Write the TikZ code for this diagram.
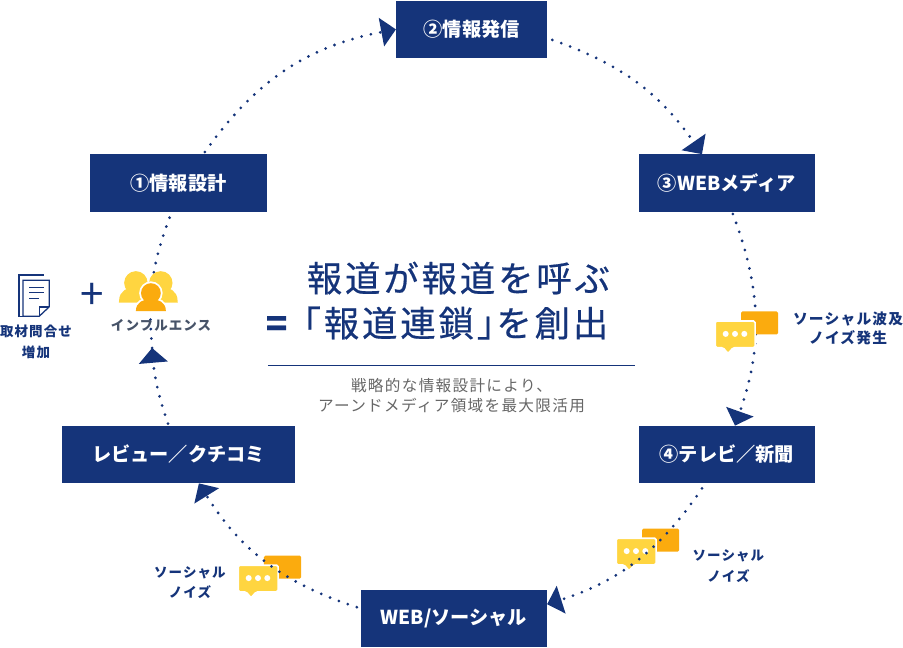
\documentclass[tikz,border=0pt]{standalone}
\usepackage{fontspec}
\setmainfont{Noto Sans CJK JP}
\newfontfamily\spacedfont[LetterSpace=8]{Noto Sans CJK JP}
\newfontfamily\subfont[LetterSpace=8.5]{Noto Sans CJK JP}
\newfontfamily\titlefont[LetterSpace=8,FakeBold=0.5]{Noto Sans CJK JP}
\usepackage{xcolor}
\usepackage{tikz}
\usetikzlibrary{arrows.meta,positioning}
\definecolor{navy}{HTML}{15347A}
\definecolor{chatyellow}{HTML}{FFD540}
\definecolor{chatorange}{HTML}{FBAB0E}
\definecolor{subgray}{HTML}{666666}
\definecolor{inflgray}{HTML}{475368}

\begin{document}
\begin{tikzpicture}[
        box/.style={rectangle, fill=navy, text=white, minimum height=1.91cm, inner sep=0pt, align=center, font=\fontsize{18.2}{20}\selectfont\bfseries},
        flow/.style={navy, line width=2.9pt, line cap=round, dash pattern=on 0pt off 9pt},
        tip/.style={-{Triangle[length=14pt,width=27pt]}},
        label/.style={text=navy, align=center, font=\fontsize{12.8}{19.8}\selectfont\spacedfont\bfseries},
        title/.style={text=navy, font=\fontsize{33.6}{36}\selectfont\titlefont},
        pics/chatpic/.style={code={
            \fill[chatorange, rounded corners=1.5pt] (0.83,0.35) rectangle (2.07,-0.42);
            \draw[white, line width=1.6pt, fill=chatyellow, rounded corners=1.5pt] (-0.03,0.03) -- (1.3,0.03) -- (1.3,-0.86) -- (0.57,-0.86) -- (0.4,-1.06) -- (0.23,-0.86) -- (-0.03,-0.86) -- cycle;
            \foreach \dotx in {0.32,0.63,0.94}
                \fill[white] (\dotx,-0.4) circle (0.1);
        }},
        pics/person/.style 2 args={code={
            \draw[#1, fill=#1, line width=3.4pt] (-0.5,-0.6) .. controls (-0.5,-0.3) and (-0.25,-0.2) .. (0,-0.2) .. controls (0.25,-0.2) and (0.5,-0.3) .. (0.5,-0.6) -- cycle;
            \draw[#1, fill=#1, line width=3.4pt] (0,0) circle (0.33);
            \fill[#2] (-0.5,-0.6) .. controls (-0.5,-0.3) and (-0.25,-0.2) .. (0,-0.2) .. controls (0.25,-0.2) and (0.5,-0.3) .. (0.5,-0.6) -- cycle;
            \fill[#2] (0,0) circle (0.33);
        }},
        pics/docicon/.style={code={
            \draw[navy, line width=1.2pt] (0.83,0) -- (0,0) -- (0,-1.37) -- (0.14,-1.37);
            \draw[navy, line width=1.2pt] (0.14,-0.17) -- (1.01,-0.17) -- (1.01,-1.06) -- (0.68,-1.37) -- (0.14,-1.37) -- cycle;
            \draw[navy, line width=1.2pt] (0.68,-1.37) -- (0.68,-1.06) -- (1.01,-1.06);
            \draw[navy, line width=1.2pt] (0.34,-0.41) -- (0.83,-0.41);
            \draw[navy, line width=1.2pt] (0.34,-0.59) -- (0.83,-0.59);
            \draw[navy, line width=1.2pt] (0.34,-0.78) -- (0.68,-0.78);
        }}
    ]
    \useasboundingbox (-15.05,-10.8) rectangle (15.05,10.8);

    % Chat icons lying under the dotted ring
    \pic at (5.52,-7.17) {chatpic};
    \pic at (-7.08,-8.07) {chatpic};

    % Steps around the ring
    \node[box, minimum width=5.03cm] (sending) at (0.67,9.82) {②情報発信};
    \node[box, minimum width=5.9cm] (design) at (-9.10,4.70) {①情報設計};
    \node[box, minimum width=5.87cm] (webmedia) at (9.18,4.70) {③WEBメディア};
    \node[box, minimum width=5.87cm] (tvpaper) at (9.18,-4.35) {④テレビ／新聞};
    \node[box, minimum width=7.77cm] (review) at (-9.10,-4.35) {レビュー／クチコミ};
    \node[box, minimum width=6.2cm] (social) at (0.08,-9.82) {WEB/ソーシャル};
    \coordinate (midtip) at (-9.98,-0.8);

    % Arrows
    \draw[flow, tip] ([xshift=0.88cm,yshift=0.07cm]design.north) to[bend left=22] (sending.west);
    \draw[flow, tip] ([xshift=0.17cm,yshift=-0.35cm]sending.east) to[bend left=18] ([xshift=-0.83cm]webmedia.north);
    \draw[flow, tip] ([xshift=0.2cm,yshift=-0.07cm]webmedia.south) to[bend left=20] ([xshift=0.27cm]tvpaper.north);
    \draw[flow, tip] ([xshift=-0.83cm,yshift=-0.17cm]tvpaper.south) to[bend left=19] ([yshift=0.48cm]social.east);
    \draw[flow, tip] ([xshift=-0.13cm,yshift=0.38cm]social.west) to[bend left=20] ([xshift=0.68cm]review.south);
    \draw[flow, tip] ([xshift=-0.35cm,yshift=0.07cm]review.north) to[bend left=7] (midtip);
    \draw[flow] (midtip) to[bend left=13] ([xshift=-0.25cm,yshift=-0.07cm]design.south);

    % Icons over the ring
    \pic at (8.82,0.07) {chatpic};
    \pic at (-14.42,1.63) {docicon};
    \pic at (-10.52,1.37) {person={chatyellow}{chatyellow}};
    \pic at (-9.69,1.37) {person={chatyellow}{chatyellow}};
    \pic at (-10.02,1.03) {person={white}{chatorange}};

    % Labels beside the ring
    \node[text=navy, inner sep=0pt, font=\fontsize{40}{40}\selectfont] (plus) at (-11.98,0.93) {+};
    \node[label, text=inflgray] (influencer) at (-9.68,-0.03) {インフルエンス};
    \node[label] (inquiry) at (-13.85,-0.6) {取材問合せ\\増加};
    \node[label, font=\fontsize{14}{18.5}\selectfont\spacedfont\bfseries] (spread) at (13.22,-0.15) {ソーシャル波及\\ノイズ発生};
    \node[label] (noiseright) at (9.23,-8.08) {ソーシャル\\ノイズ};
    \node[label] (noiseleft) at (-8.72,-8.62) {ソーシャル\\ノイズ};

    % Message in the middle
    \node[title] (headline) at (0.23,1.53) {報道が報道を呼ぶ};
    \node[title, anchor=east] (chain) at (5.35,0.03) {\textbf{=}\hspace{-0.13em}「報道連鎖」\hspace{-0.45em}を創出};
    \draw[navy, line width=1pt] (-6.12,-1.37) -- (6.12,-1.37);
    \node[text=subgray, align=center, font=\fontsize{14.8}{18.9}\selectfont\subfont] (subtext) at (0,-2.4) {戦略的な情報設計により、\\アーンドメディア領域を最大限活用};
\end{tikzpicture}
\end{document}
